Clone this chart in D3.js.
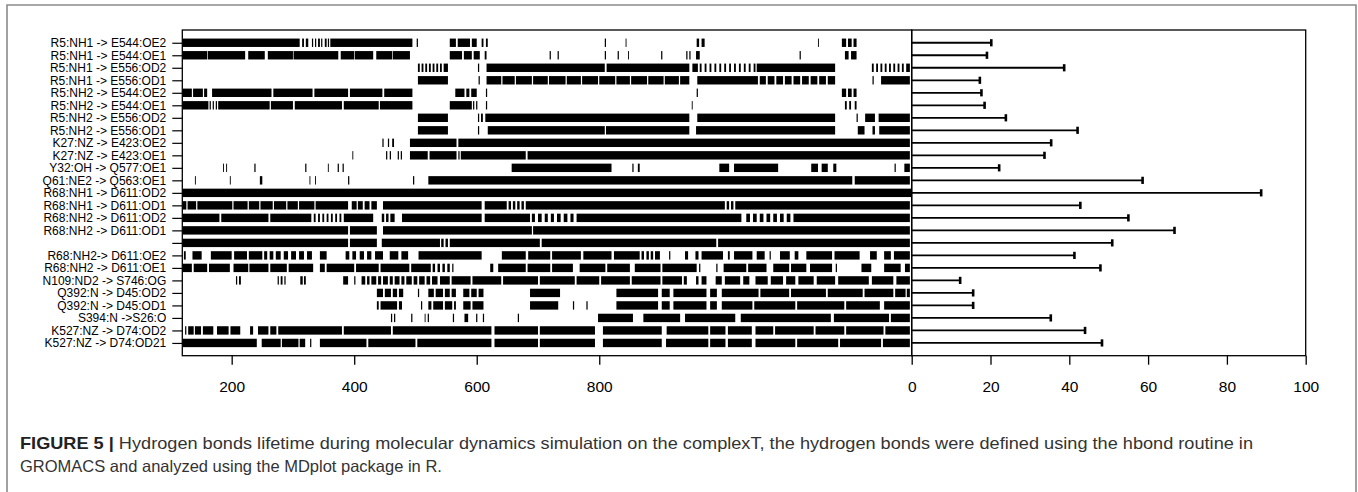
<!DOCTYPE html>
<html><head><meta charset="utf-8">
<script src="https://cdn.jsdelivr.net/npm/d3@7"></script>
<style>
html,body{margin:0;padding:0;background:#fff;}
svg{display:block;}
</style></head>
<body>
<svg id="chart" width="1358" height="492"></svg>
<script>
// ---------- data ----------
const timeDomain = [119.4, 1310];
const timeTicks = [200, 400, 600, 800];
const pctTicks = [0, 20, 40, 60, 80, 100];

const labels = [
  "R5:NH1 -> E544:OE2", "R5:NH1 -> E544:OE1", "R5:NH1 -> E556:OD2", "R5:NH1 -> E556:OD1",
  "R5:NH2 -> E544:OE2", "R5:NH2 -> E544:OE1", "R5:NH2 -> E556:OD2", "R5:NH2 -> E556:OD1",
  "K27:NZ -> E423:OE2", "K27:NZ -> E423:OE1", "Y32:OH -> Q577:OE1", "Q61:NE2 -> Q563:OE1",
  "R68:NH1 -> D611:OD2", "R68:NH1 -> D611:OD1", "R68:NH2 -> D611:OD2", "R68:NH2 -> D611:OD1",
  "", "R68:NH2-> D611:OE2", "R68:NH2 -> D611:OE1", "N109:ND2 -> S746:OG",
  "Q392:N -> D45:OD2", "Q392:N -> D45:OD1", "S394:N ->S26:O", "K527:NZ -> D74:OD2", "K527:NZ -> D74:OD21"
];

const lifetime = [20.2, 19.1, 38.7, 17.3, 17.7, 18.5, 23.9, 42.1, 35.4, 33.7, 22.2, 58.6, 88.7,
  42.8, 55.0, 66.7, 50.9, 41.3, 47.9, 12.3, 15.6, 15.6, 35.3, 44.0, 48.3];

// presence intervals [start, end] per hydrogen bond (time units)
const r01 = [[120,311],[315,318],[321,325],[331,333],[336,338],[341,344],[346,348],[352,355],[357,359],[361,495],[502,504],[556,566],[569,589],[592,600],[608,611],[615,618],[809,811],[843,844],[959,963],[967,972],[1157,1158],[1196,1203],[1206,1212],[1215,1220]];
const r02 = [[120,160],[161,222],[227,254],[259,300],[301,374],[378,400],[401,431],[436,462],[463,491],[556,576],[579,592],[595,605],[613,616],[719,721],[732,734],[809,811],[830,832],[847,848],[901,903],[942,944],[947,949],[958,964],[1127,1129],[1201,1207],[1211,1220]];
const r03 = [[504,507],[510,513],[516,519],[522,525],[528,531],[534,537],[540,543],[546,553],[602,604],[616,809],[812,947],[952,961],[964,967],[972,975],[980,983],[988,991],[996,999],[1004,1007],[1012,1015],[1020,1023],[1028,1031],[1036,1039],[1044,1047],[1052,1055],[1057,1185],[1245,1248],[1252,1255],[1259,1262],[1266,1269],[1273,1276],[1280,1283],[1287,1290],[1294,1297],[1301,1307]];
const r04 = [[504,553],[603,605],[616,640],[642,662],[664,690],[692,716],[718,745],[747,770],[772,798],[800,826],[828,850],[852,878],[880,905],[907,930],[932,947],[960,1059],[1062,1072],[1075,1086],[1089,1100],[1103,1114],[1117,1128],[1131,1142],[1145,1156],[1159,1170],[1173,1185],[1246,1248],[1260,1307]];
const r05 = [[120,135],[137,153],[155,160],[168,265],[268,332],[335,390],[393,446],[449,495],[565,580],[583,588],[591,600],[615,617],[959,961],[1196,1203],[1206,1212],[1215,1220]];
const r06 = [[120,162],[164,166],[169,171],[174,176],[178,262],[264,300],[303,380],[383,440],[442,495],[556,592],[594,596],[599,601],[615,617],[951,952],[1201,1204],[1208,1211],[1217,1220]];
const r07 = [[504,553],[602,604],[607,610],[614,947],[960,1185],[1220,1222],[1234,1250],[1256,1307]];
const r08 = [[504,553],[602,604],[618,809],[811,947],[958,1185],[1222,1233],[1246,1250],[1257,1307]];
const r09 = [[446,448],[455,457],[462,465],[491,567],[570,1307]];
const r10 = [[397,398],[452,454],[458,460],[471,473],[476,478],[491,520],[523,567],[570,572],[574,680],[683,1307]];
const r11 = [[186,187],[191,192],[237,239],[320,322],[357,358],[373,375],[381,383],[657,820],[854,856],[863,866],[996,1012],[1020,1092],[1146,1157],[1163,1173],[1182,1187],[1282,1284],[1298,1307]];
const r12 = [[140,141],[197,198],[246,250],[327,328],[336,337],[390,392],[496,498],[521,1213],[1217,1307]];
const r13 = [[120,1309]];
const r14 = [[120,126],[128,142],[144,201],[203,226],[228,245],[247,267],[269,289],[291,308],[310,335],[337,390],[396,404],[406,414],[417,425],[428,437],[447,608],[613,649],[652,656],[659,663],[666,670],[673,677],[680,1005],[1008,1012],[1015,1019],[1022,1307]];
const r15 = [[120,180],[183,260],[263,330],[334,337],[341,344],[348,351],[355,358],[362,365],[369,372],[376,379],[383,431],[445,449],[452,456],[459,466],[478,608],[613,687],[690,695],[700,706],[711,716],[721,726],[731,737],[742,748],[753,758],[763,1032],[1040,1046],[1051,1057],[1062,1068],[1073,1079],[1084,1090],[1095,1101],[1106,1112],[1117,1307]];
const r16 = [[120,390],[393,437],[447,690],[692,1307]];
const r17 = [[120,390],[393,437],[445,540],[542,546],[549,553],[556,703],[706,991],[994,1307]];
const r18 = [[122,125],[136,151],[166,200],[204,225],[228,250],[253,258],[262,268],[272,280],[285,292],[297,305],[310,318],[323,331],[344,355],[386,392],[397,403],[409,416],[421,428],[434,447],[458,472],[477,488],[505,608],[641,680],[684,720],[723,770],[774,820],[824,866],[869,873],[877,881],[884,888],[891,899],[914,916],[940,945],[957,962],[967,1002],[1010,1013],[1020,1050],[1057,1070],[1078,1080],[1095,1111],[1119,1125],[1138,1180],[1184,1225],[1242,1253],[1265,1276],[1281,1307]];
const r19 = [[120,135],[138,160],[163,197],[203,227],[229,260],[263,290],[293,333],[344,352],[355,400],[403,440],[443,490],[493,525],[528,532],[536,540],[544,548],[552,556],[560,562],[622,627],[635,680],[683,720],[723,757],[768,810],[813,850],[858,900],[903,959],[963,965],[991,993],[1003,1040],[1043,1073],[1084,1110],[1113,1138],[1144,1180],[1186,1188],[1228,1244],[1265,1292],[1299,1307]];
const r20 = [[207,209],[212,215],[275,277],[280,283],[286,288],[312,316],[318,321],[382,390],[400,402],[412,418],[421,425],[428,436],[439,444],[447,455],[458,463],[466,474],[477,482],[485,494],[497,503],[506,515],[518,524],[527,536],[540,556],[559,590],[593,640],[643,700],[703,760],[763,800],[803,850],[853,900],[903,935],[938,943],[958,962],[967,975],[990,1000],[1005,1030],[1035,1045],[1055,1075],[1080,1100],[1105,1120],[1125,1150],[1155,1185],[1190,1240],[1245,1280],[1285,1307]];
const r21 = [[437,447],[450,460],[463,470],[473,480],[504,506],[521,530],[533,545],[548,556],[559,566],[578,588],[591,600],[603,611],[687,736],[828,896],[902,915],[921,975],[981,992],[1000,1060],[1063,1110],[1113,1170],[1173,1230],[1233,1280],[1283,1300],[1302,1307]];
const r22 = [[437,440],[443,470],[473,478],[509,511],[521,526],[529,545],[548,560],[563,566],[578,590],[593,611],[687,733],[757,759],[779,781],[828,896],[902,915],[921,975],[981,992],[1000,1050],[1053,1120],[1123,1200],[1203,1258],[1265,1307]];
const r23 = [[460,462],[465,467],[493,495],[515,516],[520,522],[561,563],[580,586],[599,601],[610,612],[667,669],[798,855],[872,932],[940,1022],[1031,1178],[1183,1273],[1276,1307]];
const r24 = [[124,126],[129,138],[140,150],[153,170],[176,195],[198,214],[230,235],[243,260],[263,273],[276,380],[383,460],[463,624],[629,700],[703,793],[806,902],[910,978],[981,1006],[1010,1049],[1055,1084],[1087,1150],[1153,1200],[1203,1264],[1267,1307]];
const r25 = [[120,241],[249,280],[282,309],[311,320],[328,330],[344,420],[423,500],[503,624],[629,700],[703,793],[806,902],[909,978],[981,1006],[1010,1049],[1055,1120],[1123,1190],[1193,1260],[1263,1307]];

const segments = [r01,r02,r03,r04,r05,r06,r07,r08,r09,r10,r11,r12,r13,r14,r15,r16,r17,r18,r19,r20,r21,r22,r23,r24,r25];

const captionBold = "FIGURE 5 |";
const captionLine1 = " Hydrogen bonds lifetime during molecular dynamics simulation on the complexT, the hydrogen bonds were defined using the hbond routine in";
const captionLine2 = "GROMACS and analyzed using the MDplot package in R.";

// ---------- layout ----------
const svg = d3.select("#chart");
const L = 182.3, M = 911.7, R = 1305.7, T = 30, B = 355.7;
const FONT = "'Liberation Sans', Arial, Helvetica, sans-serif";

const rows = d3.range(labels.length);
const x = d3.scaleLinear().domain(timeDomain).range([L, M]);
const xp = d3.scaleLinear().domain([0, 100]).range([M, R]);
const y = d3.scalePoint().domain(rows).range([T, B]).padding(1.02);
const bandH = 8.4;

// outer frame
svg.append("path")
  .attr("d", `M7,500 V5 H1356 V500`)
  .attr("fill", "none").attr("stroke", "#8a8a8a").attr("stroke-width", 1.6);

// barcode marks
const gBars = svg.append("g");
rows.forEach(i => {
  gBars.selectAll(null).data(segments[i]).join("rect")
    .attr("x", d => x(d[0]))
    .attr("width", d => Math.max(x(d[1]) - x(d[0]), 0.9))
    .attr("y", y(i) - bandH / 2)
    .attr("height", bandH)
    .attr("fill", "#000");
});

// lifetime bars
const gL = svg.append("g");
gL.selectAll("line.b").data(rows).join("line")
  .attr("x1", xp(0)).attr("x2", i => xp(lifetime[i]))
  .attr("y1", i => y(i)).attr("y2", i => y(i))
  .attr("stroke", "#000").attr("stroke-width", 1.8);
gL.selectAll("line.c").data(rows).join("line")
  .attr("x1", i => xp(lifetime[i])).attr("x2", i => xp(lifetime[i]))
  .attr("y1", i => y(i) - 3.6).attr("y2", i => y(i) + 3.6)
  .attr("stroke", "#000").attr("stroke-width", 2.6);

// panel boxes
svg.append("rect").attr("x", L).attr("y", T).attr("width", M - L).attr("height", B - T)
  .attr("fill", "none").attr("stroke", "#000").attr("stroke-width", 1.3);
svg.append("rect").attr("x", M).attr("y", T).attr("width", R - M).attr("height", B - T)
  .attr("fill", "none").attr("stroke", "#000").attr("stroke-width", 1.3);

// y axis
const yAxis = svg.append("g").attr("transform", `translate(${L},0)`)
  .call(d3.axisLeft(y).tickSize(10).tickPadding(6).tickFormat(i => labels[i]));
yAxis.select(".domain").remove();
yAxis.selectAll("line").attr("stroke", "#000").attr("stroke-width", 1.2);
yAxis.selectAll("text").attr("font-family", FONT).attr("font-size", 12).attr("fill", "#000");

// x axes
function styleX(g) {
  g.select(".domain").remove();
  g.selectAll("line").attr("stroke", "#000").attr("stroke-width", 1.3);
  g.selectAll("text").attr("font-family", FONT).attr("font-size", 15.5).attr("fill", "#000");
}
svg.append("g").attr("transform", `translate(0,${B})`)
  .call(d3.axisBottom(x).tickValues(timeTicks).tickSize(9).tickPadding(16).tickFormat(d3.format("d")))
  .call(styleX);
svg.append("g").attr("transform", `translate(0,${B})`)
  .call(d3.axisBottom(xp).tickValues(pctTicks).tickSize(9).tickPadding(16).tickFormat(d3.format("d")))
  .call(styleX);

// caption
const cap = svg.append("text").attr("x", 20).attr("y", 449)
  .attr("font-family", FONT).attr("font-size", 16.5).attr("fill", "#333")
  .attr("textLength", 1233).attr("lengthAdjust", "spacingAndGlyphs");
cap.append("tspan").attr("font-weight", "bold").attr("fill", "#222").text(captionBold);
cap.append("tspan").text(captionLine1);
svg.append("text").attr("x", 20).attr("y", 471.5)
  .attr("font-family", FONT).attr("font-size", 16.5).attr("fill", "#333")
  .text(captionLine2);
</script>
</body></html>
